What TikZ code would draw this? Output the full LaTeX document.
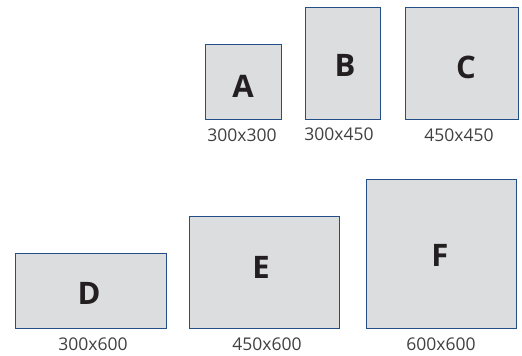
\documentclass[tikz,border=0pt]{standalone}
\usepackage{fontspec}
\setmainfont{Open Sans}
\definecolor{boxfill}{HTML}{DCDDDF}
\definecolor{boxline}{HTML}{244E88}
\definecolor{lettercol}{HTML}{231F20}
\definecolor{labelcol}{HTML}{404040}
\begin{document}
\begin{tikzpicture}[x=1pt,y=-1pt,
  sizebox/.style={draw=boxline,fill=boxfill,line width=0.9pt},
  letter/.style={font=\fontsize{31}{31}\selectfont\bfseries,text=lettercol,inner sep=0pt},
  sizelabel/.style={font=\fontsize{17.5}{17.5}\selectfont,text=labelcol,inner sep=0pt}]
\useasboundingbox (0,0) rectangle (522,356);
% boxes
\draw[sizebox] (205,44) rectangle (281,119);
\draw[sizebox] (305,7) rectangle (380,119);
\draw[sizebox] (405,7) rectangle (518,119);
\draw[sizebox] (15,253) rectangle (166,328);
\draw[sizebox] (189,216) rectangle (339,328);
\draw[sizebox] (366,179) rectangle (516,328);
% letters
\node[letter] (A) at (243,86) {A};
\node[letter] (B) at (345,65) {B};
\node[letter] (C) at (466,67) {C};
\node[letter] (D) at (89,293) {D};
\node[letter] (E) at (261,267) {E};
\node[letter] (F) at (440,255) {F};
% labels
\node[sizelabel] (la) at (242,135) {300x300};
\node[sizelabel] (lb) at (339,134) {300x450};
\node[sizelabel] (lc) at (459,135) {450x450};
\node[sizelabel] (ld) at (93,344) {300x600};
\node[sizelabel] (le) at (267,344) {450x600};
\node[sizelabel] (lf) at (441,344) {600x600};
\end{tikzpicture}
\end{document}
